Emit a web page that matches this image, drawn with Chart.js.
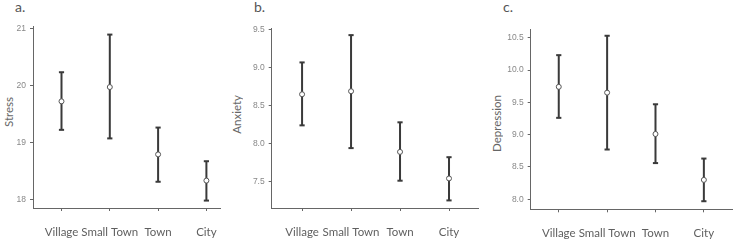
<!DOCTYPE html>
<html>
<head>
<meta charset="utf-8">
<script src="https://cdn.jsdelivr.net/npm/chart.js@4.4.1/dist/chart.umd.min.js"></script>
<style>
  body { margin: 0; background: #fff; width: 737px; height: 241px; position: relative; overflow: hidden; font-family: Lato, sans-serif; }
  canvas { position: absolute; top: 0; }
  .tag { position: absolute; top: 0; font-size: 14px; line-height: 14px; color: #555; }
  .ytitle { position: absolute; writing-mode: vertical-rl; transform: rotate(180deg); font-size: 11.5px; line-height: 13px; color: #666; white-space: nowrap; }
</style>
</head>
<body>
<div class="tag" style="left:15px">a.</div>
<div class="tag" style="left:254px">b.</div>
<div class="tag" style="left:503px">c.</div>
<div class="ytitle" style="left:1.5px; top:97px">Stress</div>
<div class="ytitle" style="left:229.5px; top:95px">Anxiety</div>
<div class="ytitle" style="left:490px; top:95px">Depression</div>
<canvas id="stressChart" width="231" height="241" style="left:0"></canvas>
<canvas id="anxietyChart" width="254" height="241" style="left:229px"></canvas>
<canvas id="depressionChart" width="248" height="241" style="left:489px"></canvas>
<script>
// categories shared by all three panels
const categories = ['Village', 'Small Town', 'Town', 'City'];

// a. Stress (mean, lower and upper end of error bar)
const stressMean = [19.72, 19.97, 18.79, 18.33];
const stressLow = [19.22, 19.07, 18.31, 17.98];
const stressHigh = [20.23, 20.89, 19.26, 18.67];
const stressTicks = [18, 19, 20, 21];

// b. Anxiety
const anxietyMean = [8.65, 8.69, 7.89, 7.54];
const anxietyLow = [8.24, 7.94, 7.51, 7.25];
const anxietyHigh = [9.07, 9.43, 8.28, 7.82];
const anxietyTicks = [7.5, 8.0, 8.5, 9.0, 9.5];

// c. Depression
const depressionMean = [9.74, 9.65, 9.01, 8.30];
const depressionLow = [9.26, 8.77, 8.56, 7.97];
const depressionHigh = [10.23, 10.53, 9.47, 8.63];
const depressionTicks = [8.0, 8.5, 9.0, 9.5, 10.0, 10.5];

const axisColor = '#666';

// each bar is two points joined by a line, broken by a null point
function errorBarPoints(low, high) {
    const points = [];
    low.forEach((lo, i) => {
        points.push({ x: i, y: lo }, { x: i, y: high[i] }, { x: i, y: null });
    });
    return points;
}

function createPanel(id, mean, low, high, tickValues, decimals, cfg) {
    const ctx = document.getElementById(id).getContext('2d');
    new Chart(ctx, {
        type: 'scatter',
        data: {
            datasets: [
                {
                    data: mean.map((v, i) => ({ x: i, y: v })),
                    order: 0,
                    pointRadius: 2.5,
                    pointHoverRadius: 2.5,
                    pointBackgroundColor: '#fff',
                    pointBorderColor: '#555',
                    pointBorderWidth: 1
                },
                {
                    data: errorBarPoints(low, high),
                    order: 1,
                    showLine: true,
                    spanGaps: false,
                    borderColor: '#3a3a3a',
                    borderWidth: 2,
                    pointStyle: 'line',
                    pointRadius: 2.6,
                    pointHoverRadius: 2.6,
                    pointBorderColor: '#3a3a3a',
                    pointBorderWidth: 2
                }
            ]
        },
        options: {
            responsive: false,
            animation: false,
            events: [],
            clip: false,
            layout: {
                padding: { top: cfg.padTop, right: cfg.padRight, left: 0, bottom: 0 }
            },
            plugins: {
                legend: { display: false },
                tooltip: { enabled: false }
            },
            scales: {
                x: {
                    type: 'linear',
                    min: cfg.xMin,
                    max: cfg.xMax,
                    afterBuildTicks: scale => {
                        scale.ticks = categories.map((c, i) => ({ value: i }));
                    },
                    afterFit: scale => { scale.height = cfg.xHeight; },
                    grid: { drawOnChartArea: false, tickLength: 3, color: axisColor },
                    border: { color: axisColor },
                    ticks: {
                        padding: 14,
                        maxRotation: 0,
                        autoSkip: false,
                        color: '#5f5f5f',
                        font: { family: 'Lato', size: 11.5 },
                        callback: value => categories[value]
                    }
                },
                y: {
                    min: cfg.yMin,
                    max: cfg.yMax,
                    afterBuildTicks: scale => {
                        scale.ticks = tickValues.map(v => ({ value: v }));
                    },
                    afterFit: scale => { scale.width = cfg.yWidth; },
                    grid: { drawOnChartArea: false, tickLength: 3, color: axisColor },
                    border: { color: axisColor },
                    ticks: {
                        padding: 4,
                        color: '#888',
                        font: { family: 'Liberation Sans', size: 8.5 },
                        callback: value => value.toFixed(decimals)
                    }
                }
            }
        }
    });
}

createPanel('stressChart', stressMean, stressLow, stressHigh, stressTicks, 0,
    { yMin: 17.85, yMax: 21.03, xMin: -0.59, xMax: 3.3, yWidth: 33, padTop: 26.6, padRight: 2, xHeight: 33 });
createPanel('anxietyChart', anxietyMean, anxietyLow, anxietyHigh, anxietyTicks, 1,
    { yMin: 7.15, yMax: 9.52, xMin: -0.62, xMax: 3.6, yWidth: 42.7, padTop: 28.3, padRight: 1.3, xHeight: 33 });
createPanel('depressionChart', depressionMean, depressionLow, depressionHigh, depressionTicks, 1,
    { yMin: 7.845, yMax: 10.63, xMin: -0.58, xMax: 3.59, yWidth: 41.7, padTop: 29.3, padRight: 2, xHeight: 31.7 });
</script>
</body>
</html>
